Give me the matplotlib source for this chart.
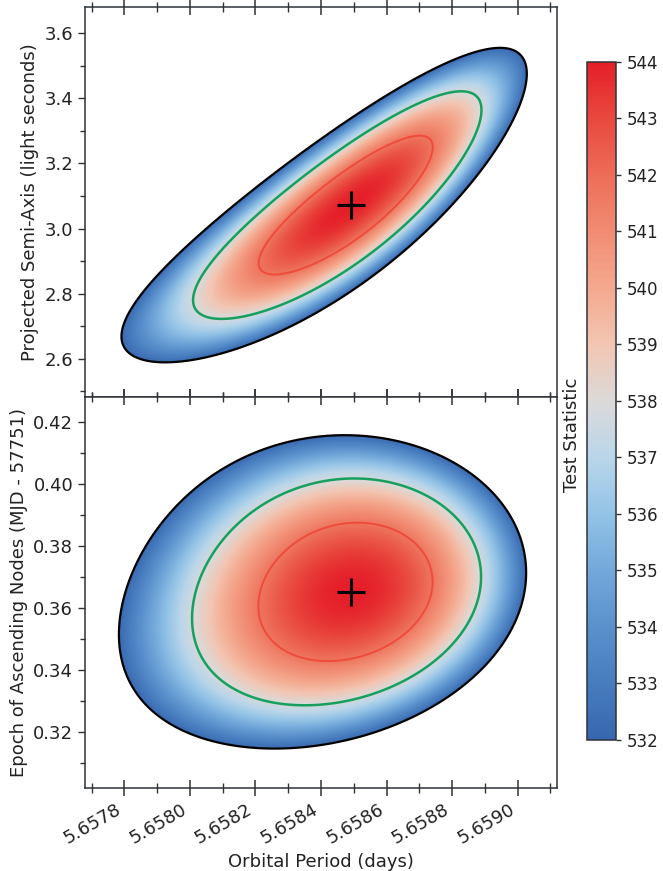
import numpy as np
import matplotlib
matplotlib.use('Agg')
import matplotlib.pyplot as plt
from matplotlib.colors import LinearSegmentedColormap
from matplotlib.ticker import MultipleLocator, FormatStrFormatter

# ---------------- data ----------------
period_best = 5.65849          # days (best fit, marked "+")
asini_best = 3.072             # light seconds
tasc_best = 0.3652             # MJD - 57751
ts_max = 544.0                 # peak test statistic

period_sigma = 0.000174        # days
period_skew = 0.036            # asymmetry of the period profile
asini_sigma = 0.1405
tasc_sigma = 0.0147
asini_rho = 0.835              # period / a sin i correlation
tasc_rho = 0.17                # period / T_asc correlation
asini_bend = 0.0
tasc_bend = 0.058              # curvature of T_asc contours

delta_levels = [11.8, 6.18, 2.3]           # 3, 2, 1 sigma (2 dof)
contour_colors = ['black', '#17a05d', '#ee4b3a']
contour_widths = [1.6, 1.8, 1.4]

cbar_ticks = list(range(532, 545))
cmap_values = [532, 533, 534, 535, 536, 537, 538, 539, 540, 541, 542, 543, 544]
cmap_colors = ['#3767b0', '#477cbe', '#5a91cc', '#73a8da', '#93c3e6', '#bad6ea',
               '#dbd9d8', '#f2c6b3', '#f4a98f', '#f18c73', '#ed6d58', '#e9493f', '#e51f29']

xlim = (5.65768, 5.65912)
ylim_top = (2.483, 3.68)
ylim_bot = (0.302, 0.428)

xlabel = 'Orbital Period (days)'
ylabel_top = 'Projected Semi-Axis (light seconds)'
ylabel_bot = 'Epoch of Ascending Nodes (MJD - 57751)'
cbar_label = 'Test Statistic'

# ---------------- figure ----------------
FS = 13
vmin, vmax = cmap_values[0], cmap_values[-1]
cmap = LinearSegmentedColormap.from_list(
    'ts', [((v - vmin) / (vmax - vmin), c) for v, c in zip(cmap_values, cmap_colors)])
cmap.set_bad((1, 1, 1, 0))


def ts_surface(px, py, y0, sy, rho, bend):
    T = (px - period_best) / period_sigma
    u = T + period_skew * T ** 2
    v = (py - y0) / sy
    up = u + bend * v ** 2
    q = (up ** 2 - 2 * rho * up * v + v ** 2) / (1 - rho ** 2)
    return ts_max - q


fig = plt.figure(figsize=(6.63, 8.71), dpi=100)
W, H = 663, 871
ax_top = fig.add_axes([85 / W, (H - 397) / H, 472 / W, 390 / H])
ax_bot = fig.add_axes([85 / W, (H - 788) / H, 472 / W, 391 / H], sharex=ax_top)
cax = fig.add_axes([587 / W, (H - 740) / H, 29 / W, 678 / H])

dark = '#2e3338'
txt = '#222222'
panels = [
    (ax_top, ylim_top, asini_best, asini_sigma, asini_rho, asini_bend, ylabel_top, 0.2, 0.1, '%.1f'),
    (ax_bot, ylim_bot, tasc_best, tasc_sigma, tasc_rho, tasc_bend, ylabel_bot, 0.02, 0.01, '%.2f'),
]

nx, ny = 900, 900
xs = np.linspace(xlim[0], xlim[1], nx)
im = None
for ax, ylim, y0, sy, rho, bend, ylab, ymaj, ymin, yfmt in panels:
    ys = np.linspace(ylim[0], ylim[1], ny)
    X, Y = np.meshgrid(xs, ys)
    Z = ts_surface(X, Y, y0, sy, rho, bend)
    levels = sorted(ts_max - d for d in delta_levels)
    Zm = np.ma.masked_less(Z, levels[0])
    im = ax.imshow(Zm, origin='lower', extent=(xlim[0], xlim[1], ylim[0], ylim[1]),
                   aspect='auto', cmap=cmap, vmin=vmin, vmax=vmax, interpolation='bilinear')
    ax.contour(X, Y, Z, levels=levels, colors=contour_colors,
               linewidths=contour_widths)
    ax.plot([period_best], [y0], marker='+', color='black', markersize=20, mew=2.2)
    ax.set_xlim(xlim)
    ax.set_ylim(ylim)
    ax.set_ylabel(ylab, fontsize=FS, color=txt)
    ax.yaxis.set_major_locator(MultipleLocator(ymaj))
    ax.yaxis.set_minor_locator(MultipleLocator(ymin))
    ax.yaxis.set_major_formatter(FormatStrFormatter(yfmt))
    ax.xaxis.set_major_locator(MultipleLocator(0.0002))
    ax.xaxis.set_minor_locator(MultipleLocator(0.0001))
    ax.tick_params(axis='x', which='major', direction='inout', length=11, width=1.1,
                   top=True, bottom=True, color=dark, labelsize=FS, labelcolor=txt)
    ax.tick_params(axis='x', which='minor', direction='inout', length=7, width=1.0,
                   top=True, bottom=True, color=dark)
    ax.tick_params(axis='y', which='major', direction='out', length=5, width=1.0,
                   color=dark, labelsize=FS, labelcolor=txt)
    ax.tick_params(axis='y', which='minor', direction='out', length=3.5, width=1.0,
                   color=dark)
    for s in ax.spines.values():
        s.set_color(dark)
        s.set_linewidth(1.1)

ax_top.tick_params(axis='x', labelbottom=False)
ax_bot.xaxis.set_major_formatter(FormatStrFormatter('%.4f'))
for lab in ax_bot.get_xticklabels():
    lab.set_rotation(30)
    lab.set_ha('right')
ax_bot.set_xlabel(xlabel, fontsize=FS, color=txt)

cb = fig.colorbar(im, cax=cax, ticks=cbar_ticks)
cb.outline.set_edgecolor(dark)
cb.outline.set_linewidth(1.1)
cax.tick_params(direction='out', length=3.5, width=1.0, pad=4.5, color=dark, labelsize=12,
                labelcolor=txt)
cax.yaxis.set_label_position('left')
cb.set_label(cbar_label, fontsize=FS, color=txt)
cax.yaxis.set_label_coords(-0.22, 0.45)

fig.savefig('out.png', dpi=100, facecolor='white')
